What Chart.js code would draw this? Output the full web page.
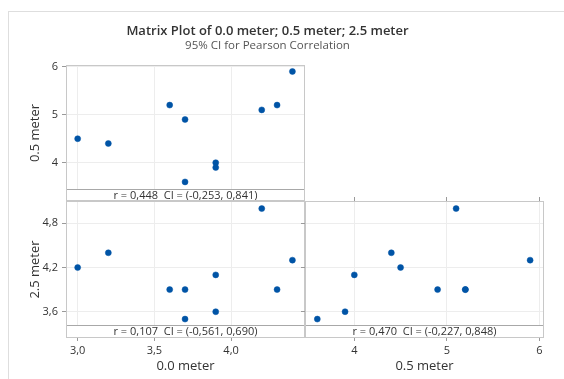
<!DOCTYPE html>
<html>
<head>
<meta charset="utf-8">
<script src="https://cdn.jsdelivr.net/npm/chart.js@4"></script>
<style>
  html, body { margin: 0; padding: 0; background: #fff; }
  #wrap { position: relative; width: 564px; height: 379px; }
  #wrap canvas { position: absolute; left: 0; top: 0; }
</style>
</head>
<body>
<div id="wrap">
  <canvas id="frame" width="564" height="379"></canvas>
  <canvas id="p1" width="564" height="379"></canvas>
  <canvas id="p2" width="564" height="379"></canvas>
  <canvas id="p3" width="564" height="379"></canvas>
</div>
<script>
// measurements, one value per sample
const meter00 = [3.0, 3.2, 3.6, 3.7, 3.7, 3.9, 3.9, 4.2, 4.3, 4.4];
const meter05 = [4.5, 4.4, 5.2, 4.9, 3.6, 4.0, 3.9, 5.1, 5.2, 5.9];
const meter25 = [4.2, 4.4, 3.9, 3.9, 3.5, 4.1, 3.6, 5.0, 3.9, 4.3];

const varNames = ['0.0 meter', '0.5 meter', '2.5 meter'];
const corrLabels = [
  'r = 0,448  CI = (-0,253, 0,841)',
  'r = 0,107  CI = (-0,561, 0,690)',
  'r = 0,470  CI = (-0,227, 0,848)'
];

const ticks00 = [3.0, 3.5, 4.0];
const tickLabels00 = ['3,0', '3,5', '4,0'];
const ticks05 = [4, 5, 6];
const tickLabels05 = ['4', '5', '6'];
const ticks25 = [3.6, 4.2, 4.8];
const tickLabels25 = ['3,6', '4,2', '4,8'];

const FONT = "'Open Sans', sans-serif";
const dotColor = '#0054a6';
const gridColor = '#ededed';
const tickColor = '#9a9a9a';

Chart.defaults.font.family = FONT;
Chart.defaults.color = '#333';

const pairs = (xs, ys) => xs.map((x, i) => ({ x: x, y: ys[i] }));
const setTicks = vals => s => { s.ticks = vals.map(v => ({ value: v })); };

// panel frame + correlation box at the bottom of each panel
const panelPlugin = {
  id: 'panel',
  afterDatasetsDraw(chart, args, opts) {
    const { ctx, chartArea: a } = chart;
    ctx.save();
    if (opts.label) {
      const y = Math.round(a.bottom - opts.boxHeight);
      ctx.fillStyle = '#fff';
      ctx.fillRect(a.left, y, a.right - a.left, a.bottom - y);
      ctx.strokeStyle = '#a8a8a8';
      ctx.lineWidth = 1;
      ctx.beginPath();
      ctx.moveTo(a.left, y + 0.5);
      ctx.lineTo(a.right, y + 0.5);
      ctx.stroke();
      ctx.fillStyle = '#333';
      ctx.font = '11px ' + FONT;
      ctx.textAlign = 'center';
      ctx.textBaseline = 'middle';
      ctx.fillText(opts.label, (a.left + a.right) / 2, y + (a.bottom - y) / 2 + 0.5);
    }
    ctx.strokeStyle = '#c8c8c8';
    ctx.lineWidth = 1;
    ctx.strokeRect(a.left + 0.5, a.top + 0.5, a.right - a.left - 1, a.bottom - a.top - 1);
    ctx.restore();
  }
};

const frameBorder = {
  id: 'frameBorder',
  beforeDraw(chart) {
    const ctx = chart.ctx;
    ctx.save();
    ctx.strokeStyle = '#dedede';
    ctx.lineWidth = 1;
    ctx.strokeRect(8.5, 11.5, 700, 500);
    ctx.restore();
  }
};

function dots(xs, ys) {
  return {
    data: pairs(xs, ys),
    backgroundColor: dotColor,
    borderColor: dotColor,
    borderWidth: 0.5,
    pointRadius: 3
  };
}

const baseOpts = {
  responsive: false,
  animation: false,
  events: []
};

// title + outer frame
new Chart(document.getElementById('frame'), {
  type: 'scatter',
  data: { datasets: [] },
  options: {
    ...baseOpts,
    layout: { padding: { left: 8, right: 37, top: 0, bottom: 0 } },
    scales: { x: { display: false }, y: { display: false } },
    plugins: {
      legend: { display: false },
      tooltip: { enabled: false },
      title: {
        display: true,
        text: 'Matrix Plot of 0.0 meter; 0.5 meter; 2.5 meter',
        color: '#333',
        font: { size: 13, weight: '600' },
        padding: { top: 23, bottom: 0 }
      },
      subtitle: {
        display: true,
        text: '95% CI for Pearson Correlation',
        color: '#555',
        font: { size: 11.5 },
        padding: { top: 0.5, bottom: 0 }
      }
    }
  },
  plugins: [frameBorder]
});

// top-left: 0.0 meter vs 0.5 meter
new Chart(document.getElementById('p1'), {
  type: 'scatter',
  data: { datasets: [dots(meter00, meter05)] },
  options: {
    ...baseOpts,
    layout: { padding: { left: 27, top: 65, right: 259, bottom: 178 } },
    plugins: { legend: { display: false }, tooltip: { enabled: false }, panel: { label: corrLabels[0], boxHeight: 12 } },
    scales: {
      x: {
        type: 'linear', min: 2.924, max: 4.482,
        afterBuildTicks: setTicks(ticks00),
        ticks: { display: false },
        grid: { color: gridColor, drawTicks: false },
        border: { display: false },
        afterFit: s => { s.height = 0; }
      },
      y: {
        type: 'linear', min: 3.202, max: 6.035,
        afterBuildTicks: setTicks(ticks05),
        ticks: { callback: (v, i) => tickLabels05[i], padding: 4, font: { size: 11 } },
        grid: { color: gridColor, tickColor: tickColor, tickLength: 4 },
        border: { display: false },
        title: { display: true, text: varNames[1], font: { size: 13 }, padding: 0 },
        afterFit: s => { s.width = 39; }
      }
    }
  },
  plugins: [panelPlugin]
});

// bottom-left: 0.0 meter vs 2.5 meter
new Chart(document.getElementById('p2'), {
  type: 'scatter',
  data: { datasets: [dots(meter00, meter25)] },
  options: {
    ...baseOpts,
    layout: { padding: { left: 27, top: 201, right: 259, bottom: 5 } },
    plugins: { legend: { display: false }, tooltip: { enabled: false }, panel: { label: corrLabels[1], boxHeight: 13 } },
    scales: {
      x: {
        type: 'linear', min: 2.924, max: 4.482,
        afterBuildTicks: setTicks(ticks00),
        ticks: { callback: (v, i) => tickLabels00[i], padding: 3, font: { size: 11 }, maxRotation: 0 },
        grid: { color: gridColor, tickColor: tickColor, tickLength: 3 },
        border: { display: false },
        title: { display: true, text: varNames[0], font: { size: 13 }, padding: 0 },
        afterFit: s => { s.height = 36; }
      },
      y: {
        type: 'linear', min: 3.243, max: 5.103,
        afterBuildTicks: setTicks(ticks25),
        ticks: { callback: (v, i) => tickLabels25[i], padding: 4, font: { size: 11 } },
        grid: { color: gridColor, tickColor: tickColor, tickLength: 4 },
        border: { display: false },
        title: { display: true, text: varNames[2], font: { size: 13 }, padding: 0 },
        afterFit: s => { s.width = 39; }
      }
    }
  },
  plugins: [panelPlugin]
});

// bottom-right: 0.5 meter vs 2.5 meter
new Chart(document.getElementById('p3'), {
  type: 'scatter',
  data: { datasets: [dots(meter05, meter25)] },
  options: {
    ...baseOpts,
    layout: { padding: { left: 301, top: 197, right: 20, bottom: 5 } },
    plugins: { legend: { display: false }, tooltip: { enabled: false }, panel: { label: corrLabels[2], boxHeight: 13 } },
    scales: {
      x: {
        type: 'linear', min: 3.467, max: 6.05,
        afterBuildTicks: setTicks(ticks05),
        ticks: { callback: (v, i) => tickLabels05[i], padding: 3, font: { size: 11 }, maxRotation: 0 },
        grid: { color: gridColor, tickColor: tickColor, tickLength: 3 },
        border: { display: false },
        title: { display: true, text: varNames[1], font: { size: 13 }, padding: 0 },
        afterFit: s => { s.height = 36; }
      },
      xTop: {
        type: 'linear', position: 'top', min: 3.467, max: 6.05,
        afterBuildTicks: setTicks(ticks05),
        ticks: { display: false },
        grid: { drawOnChartArea: false, tickColor: tickColor, tickLength: 4 },
        border: { display: false },
        afterFit: s => { s.height = 4; }
      },
      y: {
        type: 'linear', min: 3.243, max: 5.103,
        afterBuildTicks: setTicks(ticks25),
        ticks: { display: false },
        grid: { color: gridColor, tickColor: tickColor, tickLength: 4 },
        border: { display: false },
        afterFit: s => { s.width = 4; }
      }
    }
  },
  plugins: [panelPlugin]
});
</script>
</body>
</html>
